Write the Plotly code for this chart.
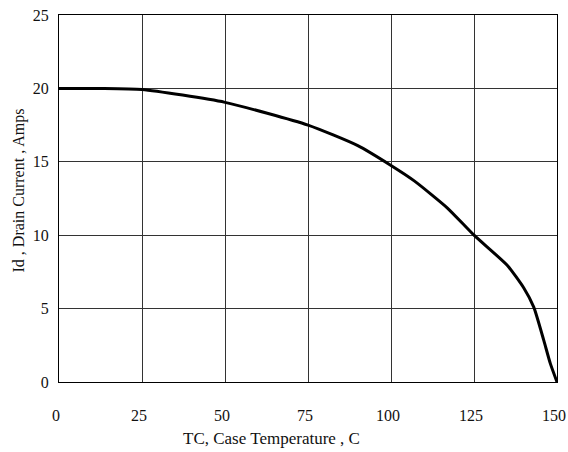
import plotly.graph_objects as go

temp_c = [0, 12.5, 25, 50, 75, 90, 100, 107, 117, 125, 135, 140, 143, 146, 148, 150]
drain_a = [20, 20, 19.93, 19.05, 17.5, 16.1, 14.75, 13.7, 11.85, 10, 7.95, 6.4, 5.1, 2.85, 1.25, 0]
x_ticks = [0, 25, 50, 75, 100, 125, 150]
y_ticks = [0, 5, 10, 15, 20, 25]

FONT = "Liberation Serif, Times New Roman, serif"

fig = go.Figure()
fig.add_trace(go.Scatter(
    x=temp_c, y=drain_a, mode="lines",
    line=dict(color="#000000", width=3, shape="spline", smoothing=0.55),
    showlegend=False, hoverinfo="skip",
))

axis_common = dict(
    showgrid=True, gridcolor="#333333", gridwidth=1,
    showline=True, linecolor="#000000", linewidth=1, mirror=True,
    zeroline=False, ticks="", automargin=False, ticklabeloverflow="allow",
    tickfont=dict(family=FONT, size=16, color="#111111"),
)

fig.update_xaxes(range=[0, 150], tickvals=x_ticks, ticklabelstandoff=19,
                 ticklabelshift=-3, **axis_common)
fig.update_yaxes(range=[0, 25], tickvals=y_ticks, ticklabelstandoff=6, **axis_common)

fig.update_layout(
    width=568, height=452,
    margin=dict(l=59, r=11, t=15, b=70, pad=0),
    paper_bgcolor="white", plot_bgcolor="white",
    annotations=[
        dict(text="TC, Case Temperature , C", xref="paper", yref="paper",
             x=(271 - 59) / 498, y=-(438 - 382) / 367, xanchor="center", yanchor="middle",
             showarrow=False, font=dict(family=FONT, size=17, color="#111111")),
        dict(text="Id , Drain Current , Amps", xref="paper", yref="paper",
             x=-(59 - 18.5) / 498, y=(382 - 191) / 367, xanchor="center", yanchor="middle",
             textangle=-90, showarrow=False, font=dict(family=FONT, size=16, color="#111111")),
    ],
)

fig.write_html("out.html")
